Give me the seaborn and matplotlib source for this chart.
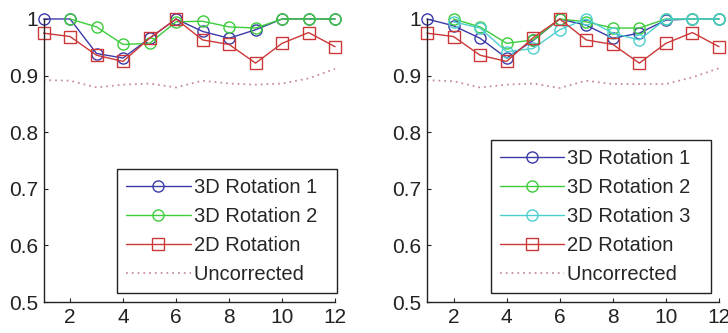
import numpy as np
import pandas as pd
import matplotlib
matplotlib.use("Agg")
import matplotlib.pyplot as plt
import seaborn as sns

sns.set_style("ticks")
plt.rcParams['font.family'] = ['Liberation Sans', 'DejaVu Sans']

x = list(range(1, 13))
nan = np.nan

# Left panel
left_rot1 = [1.000, 1.000, 0.939, 0.931, 0.966, 1.000, 0.978, 0.966, 0.981, 1.000, 1.000, 1.000]
left_rot2 = [nan, 1.000, 0.986, 0.955, 0.957, 0.995, 0.996, 0.986, 0.984, 1.000, 1.000, 1.000]
left_2d = [0.975, 0.969, 0.936, 0.925, 0.966, 1.000, 0.963, 0.955, 0.922, 0.957, 0.976, 0.951]
left_unc = [0.892, 0.891, 0.879, 0.884, 0.886, 0.879, 0.891, 0.886, 0.884, 0.886, 0.895, 0.912]

# Right panel
right_rot1 = [1.000, 0.988, 0.966, 0.931, 0.962, 1.000, 0.989, 0.966, 0.975, 0.998, 1.000, 1.000]
right_rot2 = [nan, 1.000, 0.986, 0.957, 0.963, 1.000, 0.995, 0.984, 0.984, 1.000, 1.000, 1.000]
right_rot3 = [nan, 0.995, 0.984, 0.942, 0.948, 0.981, 1.000, 0.975, 0.963, 1.000, 1.000, 1.000]
right_2d = [0.975, 0.969, 0.936, 0.925, 0.967, 1.000, 0.963, 0.955, 0.922, 0.957, 0.976, 0.951]
right_unc = [0.892, 0.890, 0.879, 0.884, 0.886, 0.878, 0.891, 0.885, 0.885, 0.885, 0.897, 0.913]

x_ticks = [2, 4, 6, 8, 10, 12]
y_ticks = [0.5, 0.6, 0.7, 0.8, 0.9, 1.0]
y_tick_labels = ["0.5", "0.6", "0.7", "0.8", "0.9", "1"]

C_BLUE = "#3a3aa8"
C_GREEN = "#3ccc3c"
C_CYAN = "#4ccfcf"
C_RED = "#cc3838"
C_UNC = "#c8909c"

fig = plt.figure(figsize=(7.28, 3.33), dpi=100)
axL = fig.add_axes([0.0598, 0.093, 0.4005, 0.850])
axR = fig.add_axes([0.5865, 0.093, 0.4011, 0.850])

FS_TICK = 15
FS_LEG = 14.5
PAD = "  "  # matlab-style extra right padding inside the legend box

def series(ax, y, label, color, marker):
    df = pd.DataFrame({"x": x, "y": y}).dropna()
    sns.lineplot(data=df, x="x", y="y", ax=ax, label=label + PAD, color=color,
                 marker=marker, markersize=8, mfc="none", mec=color, mew=1.0,
                 lw=1.0, clip_on=False)

def unc(ax, y):
    df = pd.DataFrame({"x": x, "y": y})
    sns.lineplot(data=df, x="x", y="y", ax=ax, label="Uncorrected" + PAD, color=C_UNC,
                 lw=1.3, linestyle=(0, (1, 2.2)))

def style(ax, legend_right):
    ax.set_xlim(1, 12)
    ax.set_ylim(0.5, 1.0)
    ax.set_xticks(x_ticks)
    ax.set_yticks(y_ticks)
    ax.set_yticklabels(y_tick_labels)
    ax.set_xlabel("")
    ax.set_ylabel("")
    for s in ["top", "right"]:
        ax.spines[s].set_visible(False)
    for s in ["left", "bottom"]:
        ax.spines[s].set_color("#222222")
        ax.spines[s].set_linewidth(1.0)
    ax.tick_params(direction="in", length=3, width=0.8, colors="#222222",
                   labelsize=FS_TICK, pad=4)
    leg = ax.legend(loc="lower right", bbox_to_anchor=(legend_right, 0.032),
                    borderaxespad=0, fancybox=False, frameon=True,
                    edgecolor="#222222", framealpha=1, fontsize=FS_LEG,
                    handlelength=3.2, handletextpad=0.15, labelspacing=0.5,
                    borderpad=0.45)
    leg.get_frame().set_linewidth(1.0)

series(axL, left_rot1, "3D Rotation 1", C_BLUE, "o")
series(axL, left_rot2, "3D Rotation 2", C_GREEN, "o")
series(axL, left_2d, "2D Rotation", C_RED, "s")
unc(axL, left_unc)
style(axL, 1.007)

series(axR, right_rot1, "3D Rotation 1", C_BLUE, "o")
series(axR, right_rot2, "3D Rotation 2", C_GREEN, "o")
series(axR, right_rot3, "3D Rotation 3", C_CYAN, "o")
series(axR, right_2d, "2D Rotation", C_RED, "s")
unc(axR, right_unc)
style(axR, 0.973)

fig.savefig("out.png", dpi=100)
